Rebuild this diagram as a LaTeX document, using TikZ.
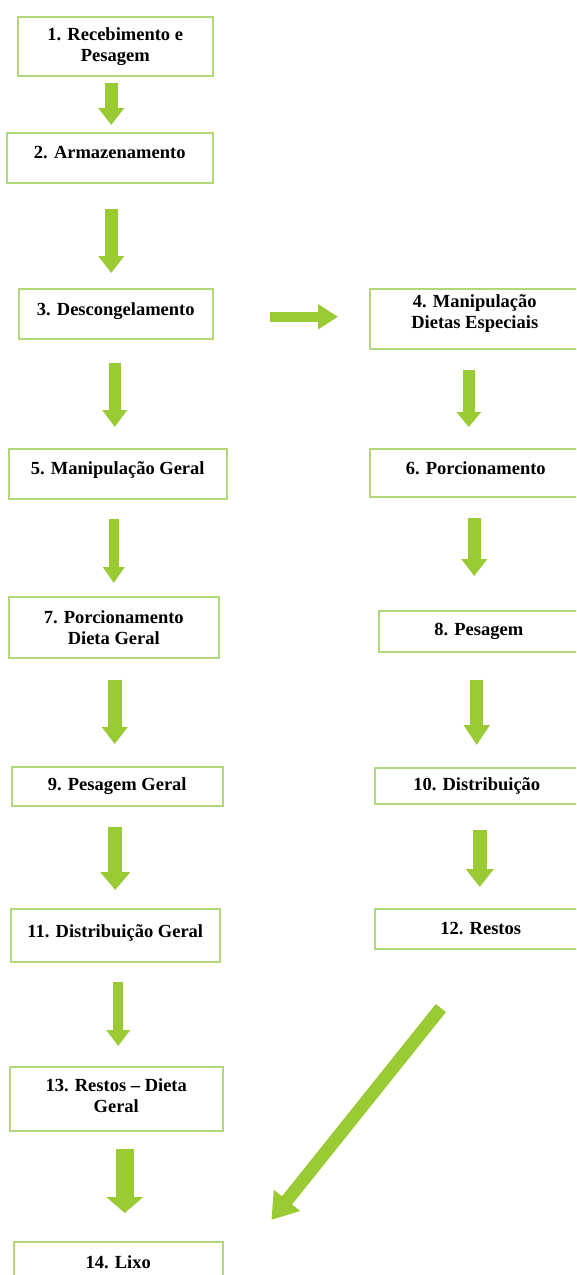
\documentclass[tikz,border=0pt]{standalone}
\usepackage{fontspec}
\setmainfont{Liberation Serif}
\usepackage{xcolor}
\usepackage{tikz}
\usetikzlibrary{arrows.meta,positioning}
\definecolor{boxgreen}{RGB}{178,214,122}
\definecolor{arrowgreen}{RGB}{154,203,52}
\tikzset{
	stage/.style={draw=boxgreen, line width=1.5pt, anchor=north west, inner sep=0pt, align=center, font=\bfseries\fontsize{18.5}{21}\selectfont},
	lift/.style={text height=13pt, text depth=#1},
	flow/.style={draw=arrowgreen, line width=13pt, -{Triangle[width=25pt,length=17pt]}},
	slimflow/.style={line width=10pt, -{Triangle[width=21pt,length=16pt]}},
	broadflow/.style={line width=18pt, -{Triangle[width=36pt,length=16pt]}}
}
\newcommand{\connectstages}[6]{
	\draw[flow, #1, shorten <=#5, shorten >=#6] ([xshift=#4]#2.south) -- ([xshift=#4]#2.south |- #3.north);
}

\begin{document}
\begin{tikzpicture}[x=1pt, y=-1pt]
	\useasboundingbox (0,0) rectangle (576,1275);
	\clip (0,0) rectangle (576,1275);

	% left column
	\node[stage, minimum width=195pt, minimum height=59pt] (receb) at (17,16) {1. Recebimento e\\Pesagem};
	\node[stage, lift=12pt, minimum width=206pt, minimum height=50pt] (armaz) at (6,132) {2. Armazenamento};
	\node[stage, lift=10pt, minimum width=194pt, minimum height=50pt] (descong) at (18,288) {3. Descongelamento};
	\node[stage, lift=12pt, minimum width=218pt, minimum height=50pt] (manip-geral) at (8,448) {5. Manipulação Geral};
	\node[stage, minimum width=210pt, minimum height=61pt] (porc-geral) at (8,596) {7. Porcionamento\\Dieta Geral};
	\node[stage, minimum width=211pt, minimum height=39pt] (pes-geral) at (11,766) {9. Pesagem Geral};
	\node[stage, lift=8pt, minimum width=209pt, minimum height=53pt] (distr-geral) at (10,908) {11. Distribuição Geral};
	\node[stage, text depth=7pt, minimum width=213pt, minimum height=64pt] (restos-geral) at (9,1066) {13. Restos -- Dieta\\Geral};
	\node[stage, minimum width=209pt, minimum height=40pt] (lixo) at (13,1241) {14. Lixo};

	% right column
	\node[stage, text depth=14pt, minimum width=210pt, minimum height=60pt] (manip-esp) at (369,288) {4. Manipulação\\Dietas Especiais};
	\node[stage, lift=10pt, minimum width=212pt, minimum height=48pt] (porc) at (369,448) {6. Porcionamento};
	\node[stage, lift=4pt, minimum width=200pt, minimum height=41pt] (pes) at (378,610) {8. Pesagem};
	\node[stage, minimum width=204pt, minimum height=36pt] (distr) at (374,767) {10. Distribuição};
	\node[stage, minimum width=212pt, minimum height=40pt] (restos) at (374,908) {12. Restos};

	\connectstages{}{receb}{armaz}{-4pt}{6pt}{7pt}
	\connectstages{}{armaz}{descong}{1.5pt}{25pt}{15pt}
	\connectstages{slimflow, line width=12pt, -{Triangle[width=24pt,length=17pt]}}{descong}{manip-geral}{-1pt}{23pt}{21pt}
	\connectstages{slimflow, line width=12pt, -{Triangle[width=24pt,length=15pt]}}{manip-esp}{porc}{-6pt}{20pt}{21pt}
	\connectstages{slimflow}{manip-geral}{porc-geral}{-4pt}{19pt}{13pt}
	\connectstages{}{porc}{pes}{-1.5pt}{20pt}{34pt}
	\connectstages{line width=14pt}{porc-geral}{pes-geral}{1pt}{21pt}{22pt}
	\connectstages{-{Triangle[width=25pt,length=20pt]}}{pes}{distr}{-2pt}{27pt}{22pt}
	\connectstages{line width=14pt, -{Triangle[width=29pt,length=18pt]}}{pes-geral}{distr-geral}{-2pt}{20pt}{18pt}
	\connectstages{line width=14pt, -{Triangle[width=27pt,length=18pt]}}{distr}{restos}{3pt}{25pt}{21pt}
	\connectstages{slimflow, -{Triangle[width=23pt,length=16pt]}}{distr-geral}{restos-geral}{3pt}{19pt}{20pt}
	\connectstages{broadflow}{restos-geral}{lixo}{8.5pt}{17pt}{28pt}

	\draw[flow, slimflow, -{Triangle[width=24pt,length=20pt]}, shorten <=56pt, shorten >=31pt] ([yshift=-3pt]descong.east) -- ([yshift=-3pt]descong.east -| manip-esp.west);
	\draw[flow, -{Triangle[width=32pt,length=25pt]}, shorten <=75pt, shorten >=27pt] ([xshift=7pt]restos.south) -- ([xshift=31pt]lixo.north east);
\end{tikzpicture}
\end{document}
